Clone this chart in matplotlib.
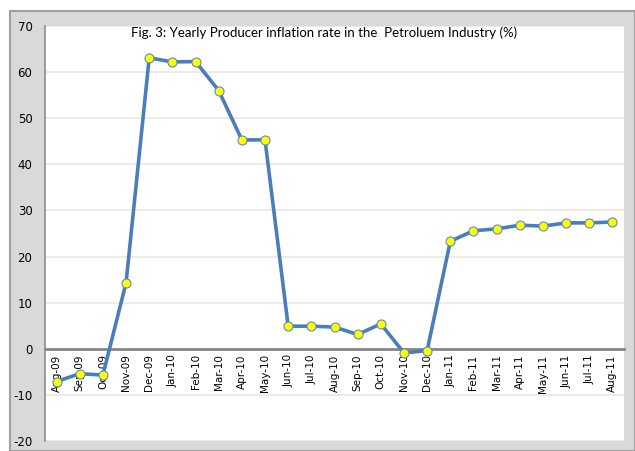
import matplotlib.pyplot as plt
from matplotlib.patches import Rectangle

months = ["Aug-09", "Sep-09", "Oct-09", "Nov-09", "Dec-09", "Jan-10", "Feb-10",
          "Mar-10", "Apr-10", "May-10", "Jun-10", "Jul-10", "Aug-10", "Sep-10",
          "Oct-10", "Nov-10", "Dec-10", "Jan-11", "Feb-11", "Mar-11", "Apr-11",
          "May-11", "Jun-11", "Jul-11", "Aug-11"]
inflation = [-7.1, -5.4, -5.7, 14.3, 63.1, 62.2, 62.3, 56.0, 45.3, 45.3,
             4.9, 4.9, 4.7, 3.1, 5.4, -0.9, -0.4, 23.3, 25.6, 26.0, 26.8,
             26.6, 27.3, 27.3, 27.5]
yticks = [-20, -10, 0, 10, 20, 30, 40, 50, 60, 70]

plt.rcParams["axes.unicode_minus"] = False

fig = plt.figure(figsize=(6.35, 4.51), dpi=100)
fig.patch.set_facecolor("white")

# grey chart frame like the Excel chart area
frame = Rectangle((10 / 635, 0), 1 - 10 / 635, 1 - 11 / 451,
                  transform=fig.transFigure, facecolor="#d9d9d9",
                  edgecolor="#a0a0a0", linewidth=1.5, zorder=-5)
fig.patches.append(frame)

ax = fig.add_axes([45 / 635, 1 - 441 / 451, (624 - 45) / 635, (441 - 26) / 451])
ax.set_zorder(2)
ax.set_facecolor("white")

# x axis crosses at zero, set before the tick labels (it resets ticks)
ax.spines["bottom"].set_position(("data", 0))

x = list(range(len(months)))
ax.plot(x, inflation, color="#4a7ebb", linewidth=2.6, marker="o",
        markersize=6.5, markerfacecolor="#ffff00", markeredgecolor="#5b8ac4",
        markeredgewidth=0.8, zorder=3)

ax.set_xlim(-0.5, len(months) - 0.5)
ax.set_ylim(-20, 70)
ax.set_yticks(yticks)
ax.set_xticks(x)
ax.set_xticklabels(months, fontsize=7.5)
ax.tick_params(axis="x", length=0, pad=4, labelrotation=90)

for t in yticks:
    if t != 0:
        ax.axhline(t, color="#ecebe0", linewidth=1.3, zorder=1)

for s in ["top", "right"]:
    ax.spines[s].set_visible(False)
ax.spines["left"].set_color("#8c8c8c")
ax.spines["left"].set_linewidth(1.2)
ax.spines["bottom"].set_color("#868686")
ax.spines["bottom"].set_linewidth(2)
ax.spines["bottom"].set_zorder(2)

ax.tick_params(axis="y", length=0, pad=9, labelsize=8.5)

# Lato has Calibri-like widths
ax.text(0.149, 0.999, "Fig. 3: Yearly Producer inflation rate in the  Petroluem Industry (%)",
        transform=ax.transAxes, ha="left", va="top", fontsize=9.5,
        family="Lato")

fig.savefig("out.png", dpi=100)
